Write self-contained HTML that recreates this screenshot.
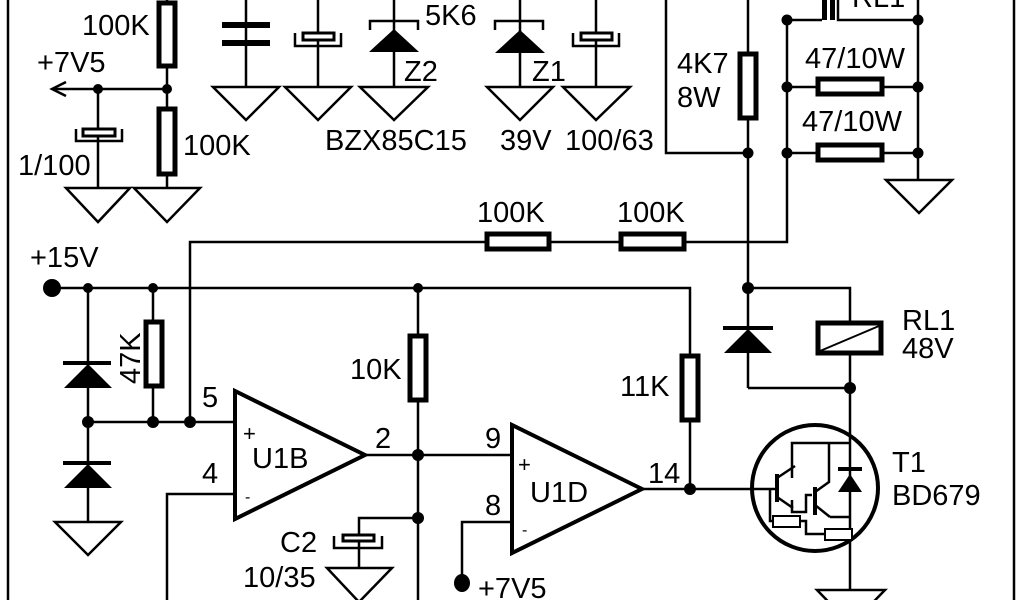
<!DOCTYPE html>
<html><head><meta charset="utf-8"><style>
html,body{margin:0;padding:0;background:#fff;}
svg{display:block;}
text{font-family:"Liberation Sans",Arial,sans-serif;font-size:29px;fill:#000;}
</style></head><body>
<svg width="1024" height="600" viewBox="0 0 1024 600" xmlns="http://www.w3.org/2000/svg">
<g stroke="#000" stroke-width="2.5" fill="none">
<line x1="8" y1="0" x2="8" y2="600"/>
<line x1="1014" y1="0" x2="1014" y2="600"/>
<line x1="167" y1="0" x2="167" y2="188"/>
<line x1="52" y1="89" x2="167" y2="89"/>
<polyline points="66,82 52,89 66,96"/>
<line x1="98" y1="89" x2="98" y2="188"/>
<polygon points="66,188 130,188 98,222"/>
<polygon points="134,188 200,188 167,222"/>
<polygon points="213,87 279,87 246,120"/>
<polygon points="285,87 351,87 318,120"/>
<polygon points="360,87 428,87 394,120"/>
<polygon points="487,87 553,87 520,120"/>
<polygon points="563,87 630,87 596,120"/>
<polygon points="886,180 952,180 919,213"/>
<polygon points="55,522 121,522 88,555"/>
<polygon points="327,568 392,568 359,602"/>
<polygon points="817,590 885,590 851,625"/>
<line x1="246" y1="0" x2="246" y2="87"/>
<line x1="318" y1="0" x2="318" y2="87"/>
<line x1="394" y1="0" x2="394" y2="87"/>
<line x1="520" y1="0" x2="520" y2="87"/>
<line x1="596" y1="0" x2="596" y2="87"/>
<polyline points="666,0 666,153 748,153"/>
<line x1="748" y1="0" x2="748" y2="388"/>
<polyline points="748,388 850,388"/>
<polyline points="748,288 850,288 850,590"/>
<polyline points="787,20 787,242 190,242 190,422"/>
<line x1="787" y1="87" x2="918" y2="87"/>
<line x1="787" y1="153" x2="918" y2="153"/>
<line x1="918" y1="20" x2="918" y2="180"/>
<polyline points="787,20 822,20"/>
<polyline points="838,0 838,20 918,20 918,0"/>
<polyline points="52,288 686,288 690,288 690,489"/>
<line x1="88" y1="288" x2="88" y2="522"/>
<line x1="153" y1="288" x2="153" y2="422"/>
<line x1="88" y1="422" x2="234" y2="422"/>
<polyline points="234,494 167,494 167,600"/>
<line x1="418" y1="288" x2="418" y2="600"/>
<line x1="365" y1="455" x2="512" y2="455"/>
<polyline points="418,518 359,518 359,568"/>
<polyline points="512,522 462,522 462,582"/>
<line x1="642" y1="489" x2="775" y2="489"/>
<circle cx="815" cy="488" r="63" stroke-width="4"/>
<polyline points="792,478 792,443 850,443"/>
<polyline points="777,478 795,466" />
<line x1="777" y1="497" x2="793" y2="508"/>
<polyline points="829,443 829,482 815,492"/>
<line x1="815" y1="505" x2="830" y2="517"/>
<polyline points="792,500 792,512 806,512 806,495 812,495"/>
<polyline points="770,489 770,521 773,521"/>
<polyline points="800,521 806,521 806,534 825,534"/>
<polyline points="830,517 850,517"/>
<polyline points="852,534 850,534"/>
</g>
<g fill="#000">
<rect x="775" y="474" width="4" height="28"/>
<rect x="813" y="487" width="4" height="28"/>
<rect x="838" y="467" width="24" height="4"/>
<polygon points="838,492 862,492 850,474"/>
</g>
<g stroke="#000" stroke-width="2" fill="#fff">
<rect x="773" y="516" width="27" height="11"/>
<rect x="825" y="529" width="27" height="11"/>
</g>
<g stroke="#000" stroke-width="5" fill="#fff">
<rect x="159" y="3" width="16" height="63"/>
<rect x="159" y="109" width="16" height="65"/>
<rect x="740" y="54" width="16" height="64"/>
<rect x="818" y="79" width="64" height="15"/>
<rect x="818" y="145" width="64" height="15"/>
<rect x="487" y="234" width="62" height="15"/>
<rect x="621" y="234" width="63" height="15"/>
<rect x="146" y="322" width="16" height="64"/>
<rect x="410" y="336" width="16" height="64"/>
<rect x="682" y="356" width="16" height="64"/>
<rect x="818" y="323" width="63" height="30"/>
</g>
<line x1="820" y1="351" x2="879" y2="326" stroke="#000" stroke-width="2"/>
<g fill="#000">
<rect x="222" y="22" width="48" height="6"/>
<rect x="222" y="40" width="48" height="6"/>
</g>
<g stroke="#000" stroke-width="3" fill="#fff">
<rect x="83" y="129" width="32" height="7"/>
<rect x="303" y="33" width="31" height="7"/>
<rect x="581" y="33" width="31" height="7"/>
<rect x="343" y="535" width="31" height="6"/>
</g>
<g stroke="#000" stroke-width="2.5" fill="none">
<polyline points="76,129 76,141 122,141 122,129"/>
<polyline points="295,33 295,46 341,46 341,33"/>
<polyline points="573,33 573,46 619,46 619,33"/>
<polyline points="334,536 334,548 382,548 382,536"/>
<polyline points="370,30 370,21 418,21 418,30"/>
<polyline points="495,30 495,21 543,21 543,30"/>
</g>
<g fill="#000">
<rect x="822" y="0" width="5" height="20"/>
<rect x="830" y="0" width="5" height="20"/>
<polygon points="369,52 419,52 394,29"/>
<polygon points="495,53 545,53 520,30"/>
<rect x="63" y="361" width="48" height="4"/>
<polygon points="64,388 112,388 88,364"/>
<rect x="63" y="461" width="48" height="4"/>
<polygon points="64,488 112,488 88,464"/>
<rect x="723" y="326" width="50" height="4"/>
<polygon points="724,353 772,353 748,329"/>
<circle cx="98" cy="89" r="5"/><circle cx="167" cy="89" r="5"/>
<circle cx="748" cy="153" r="5.5"/><circle cx="787" cy="20" r="5.5"/><circle cx="918" cy="20" r="5.5"/>
<circle cx="787" cy="87" r="5.5"/><circle cx="918" cy="87" r="5.5"/>
<circle cx="787" cy="153" r="5.5"/><circle cx="918" cy="153" r="5.5"/>
<circle cx="52" cy="288" r="9"/>
<circle cx="88" cy="288" r="5"/><circle cx="153" cy="288" r="5"/><circle cx="418" cy="288" r="5"/>
<circle cx="748" cy="288" r="6"/><circle cx="850" cy="388" r="6"/>
<circle cx="88" cy="422" r="6"/><circle cx="153" cy="422" r="6"/><circle cx="190" cy="422" r="6"/>
<circle cx="418" cy="455" r="6"/><circle cx="418" cy="518" r="6"/>
<circle cx="690" cy="489" r="6"/>
<ellipse cx="462" cy="583" rx="8" ry="9"/>
</g>
<g stroke="#000" stroke-width="4" fill="#fff" stroke-linejoin="miter">
<polygon points="235,391 235,519 365,455"/>
<polygon points="512,425 512,553 642,489"/>
</g>
<text x="82" y="35">100K</text>
<text x="37" y="72">+7V5</text>
<text x="18" y="175">1/100</text>
<text x="183" y="155">100K</text>
<text x="425" y="25">5K6</text>
<text x="404" y="81">Z2</text>
<text x="532" y="81">Z1</text>
<text x="325" y="150">BZX85C15</text>
<text x="500" y="150">39V</text>
<text x="565" y="150">100/63</text>
<text x="677" y="73">4K7</text>
<text x="677" y="107">8W</text>
<text x="852" y="7">RL1</text>
<text x="805" y="68">47/10W</text>
<text x="802" y="131">47/10W</text>
<text x="477" y="222">100K</text>
<text x="617" y="222">100K</text>
<text x="30" y="267">+15V</text>
<text transform="translate(140,384) rotate(-90)">47K</text>
<text x="350" y="379">10K</text>
<text x="620" y="396">11K</text>
<text x="902" y="330">RL1</text>
<text x="902" y="358">48V</text>
<text x="892" y="472">T1</text>
<text x="892" y="505">BD679</text>
<text x="202" y="407">5</text>
<text x="202" y="483">4</text>
<text x="375" y="448">2</text>
<text x="485" y="448">9</text>
<text x="485" y="515">8</text>
<text x="648" y="483">14</text>
<text x="243" y="441" style="font-size:22px">+</text>
<text x="245" y="502" style="font-size:16px">-</text>
<text x="252" y="468">U1B</text>
<text x="518" y="472" style="font-size:22px">+</text>
<text x="522" y="535" style="font-size:16px">-</text>
<text x="530" y="502">U1D</text>
<text x="280" y="552">C2</text>
<text x="243" y="587">10/35</text>
<text x="478" y="598">+7V5</text>
</svg>
</body></html>
